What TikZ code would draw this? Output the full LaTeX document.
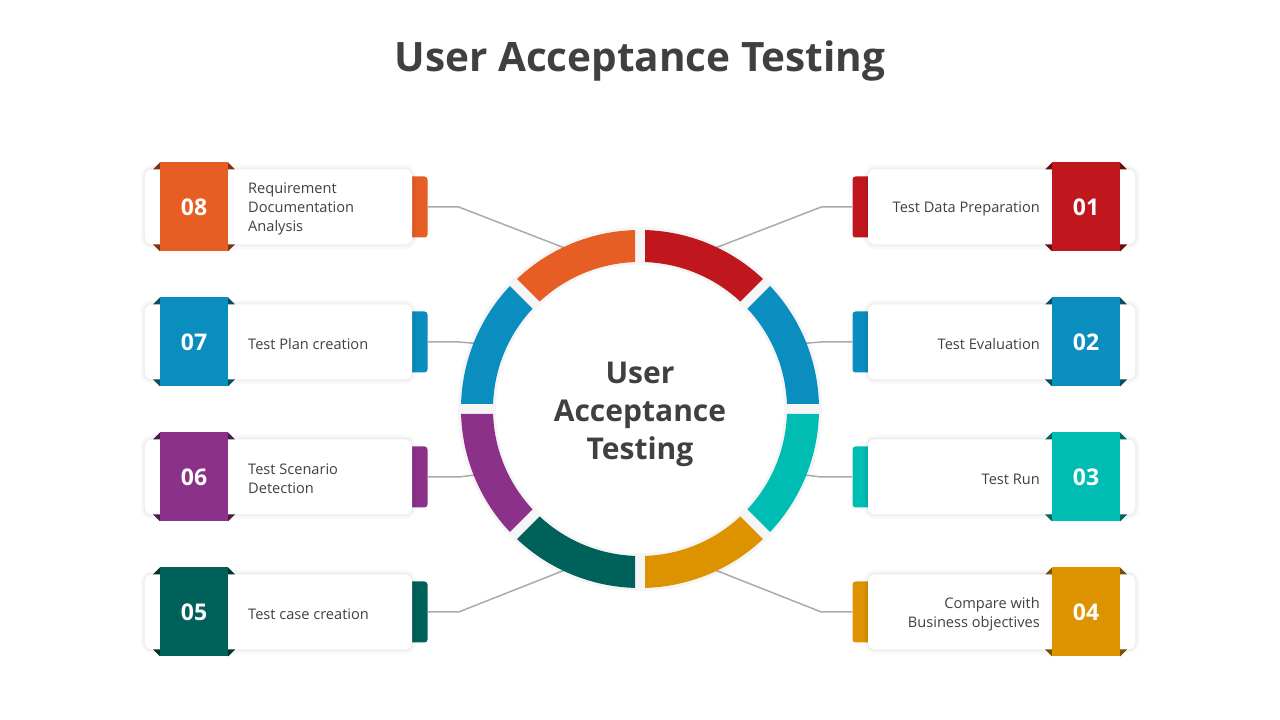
\documentclass[tikz,border=0pt]{standalone}
\usepackage{fontspec}
\setmainfont{Open Sans}
\usetikzlibrary{calc}
\definecolor{cA}{HTML}{C0161E}
\definecolor{cB}{HTML}{0A8DBF}
\definecolor{cC}{HTML}{00BDB4}
\definecolor{cD}{HTML}{DD9300}
\definecolor{cE}{HTML}{00605A}
\definecolor{cF}{HTML}{8B3189}
\definecolor{cG}{HTML}{0A8DBF}
\definecolor{cH}{HTML}{E65E24}
\definecolor{txtgray}{HTML}{404040}
\definecolor{linegray}{HTML}{AAAAAA}
\tikzset{
  tabbox/.style={rounded corners=3pt, minimum width=28pt, minimum height=61pt, inner sep=0pt},
  cardbox/.style={fill=white, rounded corners=7pt, minimum width=267pt, minimum height=75pt, inner sep=0pt,
    preaction={draw=black, draw opacity=0.025, line width=9pt},
    preaction={draw=black, draw opacity=0.04, line width=4pt}},
  numbox/.style={minimum width=68pt, minimum height=89pt, inner sep=0pt, text=white,
    font=\bfseries\fontsize{23}{28}\selectfont},
  lbl/.style={text=txtgray, font=\fontsize{14.6}{19}\selectfont, inner sep=0pt},
  conn/.style={draw=linegray, line width=1.5pt},
}
\newcommand\LCard[5]{%
  \node[tabbox, fill=#3] (tab#1) at (413.5,#2) {};
  \node[cardbox] (card#1) at (278.5,#2) {};
  \fill[#3!55!black] (153,#2+37.5) -- (160,#2+44.5) -- (160,#2+37.5) -- cycle;
  \fill[#3!55!black] (235,#2+37.5) -- (228,#2+44.5) -- (228,#2+37.5) -- cycle;
  \fill[#3!55!black] (153,#2-37.5) -- (160,#2-44.5) -- (160,#2-37.5) -- cycle;
  \fill[#3!55!black] (235,#2-37.5) -- (228,#2-44.5) -- (228,#2-37.5) -- cycle;
  \node[numbox, fill=#3] (num#1) at (194,#2) {#4};
  \node[lbl, anchor=west, align=left] (txt#1) at (248,#2-2) {#5};
}
\newcommand\RCard[5]{%
  \node[tabbox, fill=#3] (tab#1) at (866.5,#2) {};
  \node[cardbox] (card#1) at (1001.5,#2) {};
  \fill[#3!55!black] (1045,#2+37.5) -- (1052,#2+44.5) -- (1052,#2+37.5) -- cycle;
  \fill[#3!55!black] (1127,#2+37.5) -- (1120,#2+44.5) -- (1120,#2+37.5) -- cycle;
  \fill[#3!55!black] (1045,#2-37.5) -- (1052,#2-44.5) -- (1052,#2-37.5) -- cycle;
  \fill[#3!55!black] (1127,#2-37.5) -- (1120,#2-44.5) -- (1120,#2-37.5) -- cycle;
  \node[numbox, fill=#3] (num#1) at (1086,#2) {#4};
  \node[lbl, anchor=east, align=right] (txt#1) at (1040,#2-2) {#5};
}
\newcommand\RingSeg[3]{% from angle, to angle, color
  \fill[#3] ($(ctr)+(#1+1.60:179pt)$) arc[start angle=#1+1.60, end angle=#2-1.60, radius=179pt]
    -- ($(ctr)+(#2-1.95:147pt)$) arc[start angle=#2-1.95, end angle=#1+1.95, radius=147pt] -- cycle;
}
\begin{document}
\begin{tikzpicture}[x=1pt,y=1pt]
\useasboundingbox[fill=white] (0,0) rectangle (1280,720);
\coordinate (ctr) at (640,311);
% title
\node[anchor=base, text=txtgray, font=\bfseries\fontsize{40.5}{48}\selectfont, inner sep=0pt] (title) at (640,648) {User Acceptance Testing};
% ring anchor points for connectors
\coordinate (rA) at ($(ctr)+(67.5:170pt)$);
\coordinate (rB) at ($(ctr)+(22.5:170pt)$);
\coordinate (rC) at ($(ctr)+(-22.5:170pt)$);
\coordinate (rD) at ($(ctr)+(-67.5:170pt)$);
\coordinate (rE) at ($(ctr)+(-112.5:170pt)$);
\coordinate (rF) at ($(ctr)+(202.5:170pt)$);
\coordinate (rG) at ($(ctr)+(157.5:170pt)$);
\coordinate (rH) at ($(ctr)+(112.5:170pt)$);
% cards
\RCard{A}{513}{cA}{01}{Test Data Preparation}
\RCard{B}{378}{cB}{02}{Test Evaluation}
\RCard{C}{243}{cC}{03}{Test Run}
\RCard{D}{108}{cD}{04}{Compare with\\Business objectives}
\LCard{E}{108}{cE}{05}{Test case creation}
\LCard{F}{243}{cF}{06}{Test Scenario\\Detection}
\LCard{G}{378}{cG}{07}{Test Plan creation}
\LCard{H}{513}{cH}{08}{Requirement\\Documentation\\Analysis}
% connectors
\foreach \i in {A,B,C,D}{
  \draw[conn] (tab\i.west) -- ++(-31,0) -- (r\i);
}
\foreach \i in {E,F,G,H}{
  \draw[conn] (tab\i.east) -- ++(31,0) -- (r\i);
}
% ring
\fill[black, opacity=0.04, even odd rule] (ctr) circle (182pt) (ctr) circle (144pt);
\fill[white] (ctr) circle (144pt);
\RingSeg{45}{90}{cA}
\RingSeg{0}{45}{cB}
\RingSeg{-45}{0}{cC}
\RingSeg{-90}{-45}{cD}
\RingSeg{-135}{-90}{cE}
\RingSeg{180}{225}{cF}
\RingSeg{135}{180}{cG}
\RingSeg{90}{135}{cH}
\node[align=center, text=txtgray, font=\bfseries\fontsize{30}{38}\selectfont] (center) at ($(ctr)+(0,-5)$) {User\\Acceptance\\Testing};
\end{tikzpicture}
\end{document}
